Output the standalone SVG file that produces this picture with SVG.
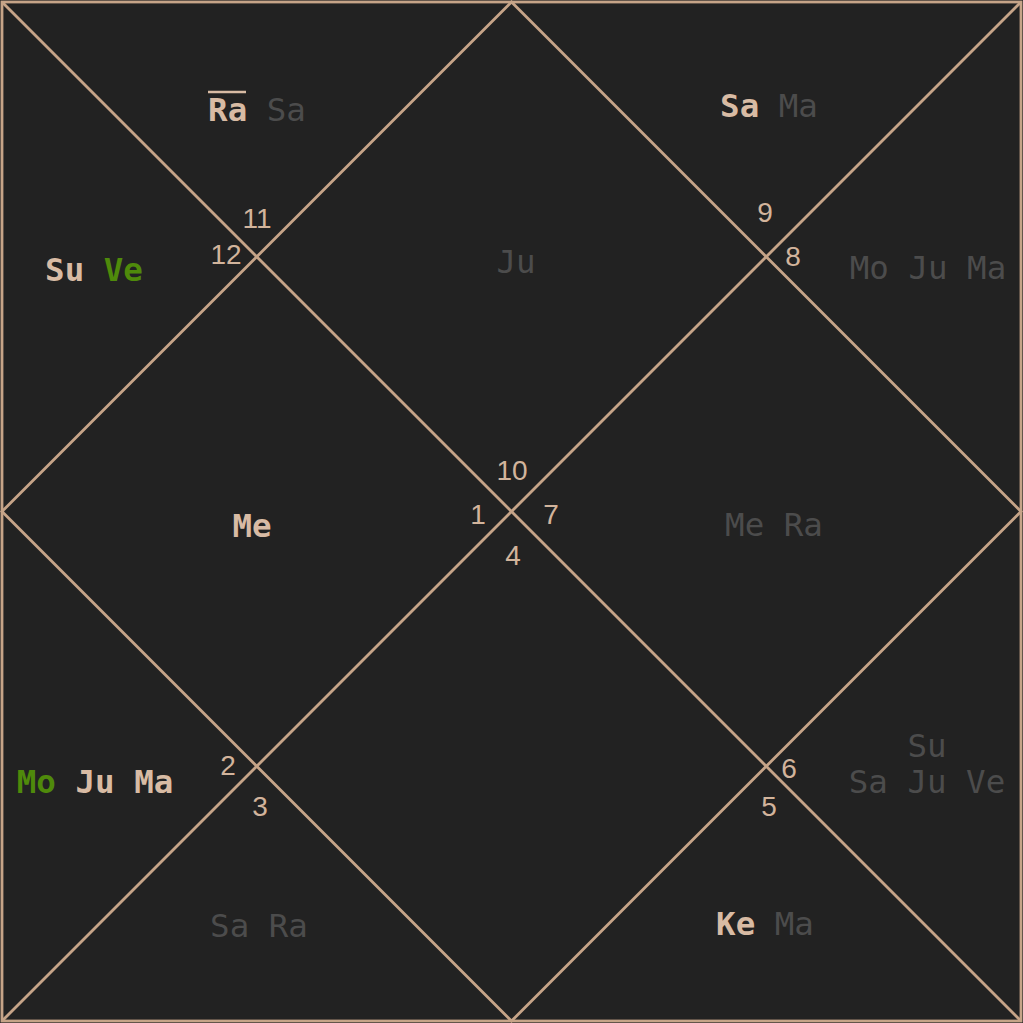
<svg xmlns="http://www.w3.org/2000/svg" width="1023" height="1023" viewBox="0 0 1023 1023">
<style>
.ln{stroke:#c6a488;stroke-width:2.8;fill:none}
.num{font-family:"Liberation Sans",Arial,sans-serif;font-size:28px;fill:#d2b49c;text-anchor:middle}
.pl{font-family:"DejaVu Sans Mono","Liberation Mono",monospace;font-size:32.5px;text-anchor:middle}
.b{font-weight:bold;fill:#d8bba4}
.g{fill:#4c4c4c}
.gr{font-weight:bold;fill:#4f8a0b}
</style>
<rect x="0" y="0" width="1023" height="1023" fill="#222222"/>
<g id="connectors">
<rect class="ln" x="2" y="2" width="1019" height="1019" stroke-width="4"/>
<line class="ln" x1="2" y1="2" x2="1021" y2="1021"/>
<line class="ln" x1="1021" y1="2" x2="2" y2="1021"/>
<polygon class="ln" points="511.5,2 1021,511.5 511.5,1021 2,511.5"/>
</g>
<g id="numbers">
<text class="num" x="512" y="480">10</text>
<text class="num" x="478" y="524">1</text>
<text class="num" x="551" y="524">7</text>
<text class="num" x="513" y="565">4</text>
<text class="num" x="257" y="228">11</text>
<text class="num" x="226" y="264">12</text>
<text class="num" x="765" y="222">9</text>
<text class="num" x="793" y="266">8</text>
<text class="num" x="228" y="775">2</text>
<text class="num" x="260" y="816">3</text>
<text class="num" x="789" y="778">6</text>
<text class="num" x="769" y="816">5</text>
</g>
<g id="house11">
<text class="pl" x="257" y="121"><tspan class="b">Ra</tspan> <tspan class="g">Sa</tspan></text>
<line x1="208" y1="92" x2="246" y2="92" stroke="#d8bba4" stroke-width="2.5"/>
</g>
<g id="house9"><text class="pl" x="769" y="117"><tspan class="b">Sa</tspan> <tspan class="g">Ma</tspan></text></g>
<g id="house10"><text class="pl g" x="516" y="273">Ju</text></g>
<g id="house12"><text class="pl" x="94" y="281"><tspan class="b">Su</tspan> <tspan class="gr">Ve</tspan></text></g>
<g id="house8"><text class="pl g" x="928" y="279">Mo Ju Ma</text></g>
<g id="house1"><text class="pl b" x="252" y="537">Me</text></g>
<g id="house7"><text class="pl g" x="774" y="536">Me Ra</text></g>
<g id="house2"><text class="pl" x="95" y="793"><tspan class="gr">Mo</tspan> <tspan class="b">Ju Ma</tspan></text></g>
<g id="house6">
<text class="pl g" x="927" y="757">Su</text>
<text class="pl g" x="927" y="793">Sa Ju Ve</text>
</g>
<g id="house3"><text class="pl g" x="259" y="937">Sa Ra</text></g>
<g id="house5"><text class="pl" x="765" y="935"><tspan class="b">Ke</tspan> <tspan class="g">Ma</tspan></text></g>
</svg>
